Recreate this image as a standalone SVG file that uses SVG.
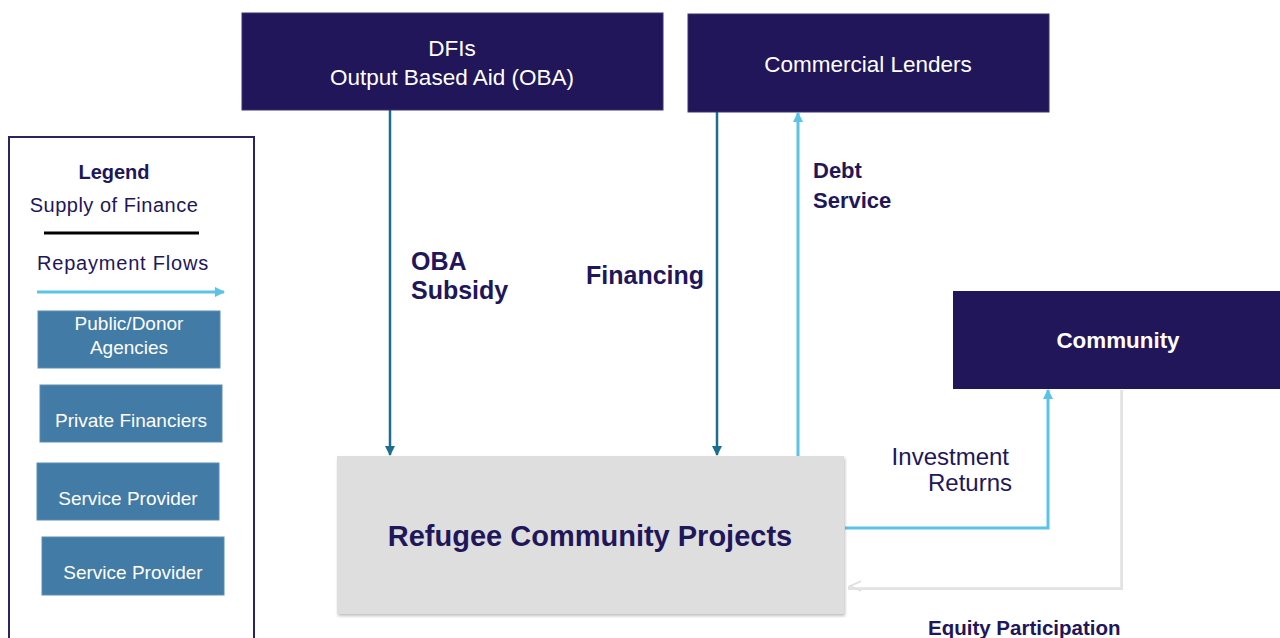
<svg xmlns="http://www.w3.org/2000/svg" width="1280" height="638" viewBox="0 0 1280 638">
  <style>
    .navy { fill: #21165a; }
    .wt { fill: #ffffff; font-family: "Liberation Sans", Arial, sans-serif; }
    .lbl { fill: #21165a; font-family: "Liberation Sans", Arial, sans-serif; }
    .b { font-weight: bold; }
    .key { fill: #427ba6; stroke: #5b8fb6; stroke-width: 1; }
    .supply { stroke: #1a6e8e; stroke-width: 2.5; fill: none; }
    .repay { stroke: #5bc3e6; stroke-width: 3; fill: none; }
  </style>
  <defs>
    <marker id="ahSupply" viewBox="0 0 10 10" refX="9" refY="5" markerWidth="4" markerHeight="4" orient="auto">
      <path d="M0,0 L10,5 L0,10 z" fill="#1a6e8e"/>
    </marker>
    <marker id="ahRepay" viewBox="0 0 10 10" refX="9" refY="5" markerWidth="3.5" markerHeight="3.5" orient="auto">
      <path d="M0,0 L10,5 L0,10 z" fill="#5bc3e6"/>
    </marker>
    <marker id="ahOpen" viewBox="0 0 10 10" refX="9" refY="5" markerWidth="5" markerHeight="5" orient="auto">
      <path d="M0,1 L9,5 L0,9" fill="none" stroke="#e0e0e0" stroke-width="1.5"/>
    </marker>
    <filter id="shadow" x="-5%" y="-5%" width="110%" height="115%">
      <feDropShadow dx="1" dy="2" stdDeviation="1.5" flood-color="#000" flood-opacity="0.25"/>
    </filter>
  </defs>

  <rect width="1280" height="638" fill="#ffffff"/>

  <!-- Legend panel -->
  <g id="legend">
    <rect x="9" y="137" width="245" height="510" fill="#ffffff" stroke="#2a2466" stroke-width="2"/>
    <text class="lbl b" x="114" y="179" font-size="20" text-anchor="middle">Legend</text>
    <text class="lbl" x="114" y="212" font-size="20" text-anchor="middle" letter-spacing="0.5">Supply of Finance</text>
    <line x1="44" y1="233" x2="199" y2="233" stroke="#000" stroke-width="3"/>
    <text class="lbl" x="123" y="270" font-size="20" text-anchor="middle" letter-spacing="0.8">Repayment Flows</text>
    <line x1="37" y1="292" x2="224" y2="292" class="repay" marker-end="url(#ahRepay)"/>
    <g id="key-public">
      <rect class="key" x="38" y="311" width="182" height="57"/>
      <text class="wt" x="129" y="330" font-size="19" text-anchor="middle">Public/Donor</text>
      <text class="wt" x="129" y="354" font-size="19" text-anchor="middle">Agencies</text>
    </g>
    <g id="key-private">
      <rect class="key" x="40" y="385" width="182" height="57"/>
      <text class="wt" x="131" y="427" font-size="19" text-anchor="middle">Private Financiers</text>
    </g>
    <g id="key-service1">
      <rect class="key" x="37" y="463" width="182" height="57"/>
      <text class="wt" x="128" y="505" font-size="19" text-anchor="middle">Service Provider</text>
    </g>
    <g id="key-service2">
      <rect class="key" x="42" y="537" width="182" height="58"/>
      <text class="wt" x="133" y="579" font-size="19" text-anchor="middle">Service Provider</text>
    </g>
  </g>

  <!-- Connectors -->
  <g id="connectors">
    <line class="supply" x1="390" y1="110" x2="390" y2="455" marker-end="url(#ahSupply)"/>
    <line class="supply" x1="717" y1="112" x2="717" y2="455" marker-end="url(#ahSupply)"/>
    <line class="repay" x1="798" y1="456" x2="798" y2="113" marker-end="url(#ahRepay)"/>
    <polyline class="repay" points="845,528 1048,528 1048,390" marker-end="url(#ahRepay)"/>
    <!-- equity return line: white stroke over a faint grey edge -->
    <polyline points="1121,390 1121,588 848,588" fill="none" stroke="#e2e2e2" stroke-width="4"/>
    <polyline points="1119,390 1119,586 850,586" fill="none" stroke="#ffffff" stroke-width="2.5" marker-end="url(#ahOpen)"/>
  </g>

  <!-- Connector labels -->
  <g id="labels">
    <text class="lbl b" x="411" y="270" font-size="25">OBA</text>
    <text class="lbl b" x="411" y="299" font-size="25">Subsidy</text>
    <text class="lbl b" x="586" y="284" font-size="25">Financing</text>
    <text class="lbl b" x="813" y="178" font-size="22">Debt</text>
    <text class="lbl b" x="813" y="208" font-size="22">Service</text>
    <text class="lbl" x="1009" y="465" font-size="24" text-anchor="end">Investment</text>
    <text class="lbl" x="1012" y="491" font-size="24" text-anchor="end">Returns</text>
    <text class="lbl b" x="928" y="635" font-size="20.5">Equity Participation</text>
  </g>

  <!-- Nodes -->
  <g id="dfis">
    <rect class="navy" x="242" y="13" width="421" height="97" stroke="#3a3370" stroke-width="1"/>
    <text class="wt" x="452" y="56" font-size="22.5" text-anchor="middle">DFIs</text>
    <text class="wt" x="452" y="85" font-size="22.5" text-anchor="middle">Output Based Aid (OBA)</text>
  </g>
  <g id="commercial-lenders">
    <rect class="navy" x="688" y="14" width="361" height="98" stroke="#3a3370" stroke-width="1"/>
    <text class="wt" x="868" y="72" font-size="22.5" text-anchor="middle">Commercial Lenders</text>
  </g>
  <g id="community">
    <rect class="navy" x="953" y="291" width="330" height="98"/>
    <text class="wt b" x="1118" y="348" font-size="22.4" text-anchor="middle">Community</text>
  </g>
  <g id="refugee-projects">
    <rect x="337" y="456" width="507" height="158" fill="#dedede" filter="url(#shadow)"/>
    <text class="lbl b" x="590" y="546" font-size="29" text-anchor="middle">Refugee Community Projects</text>
  </g>
</svg>
